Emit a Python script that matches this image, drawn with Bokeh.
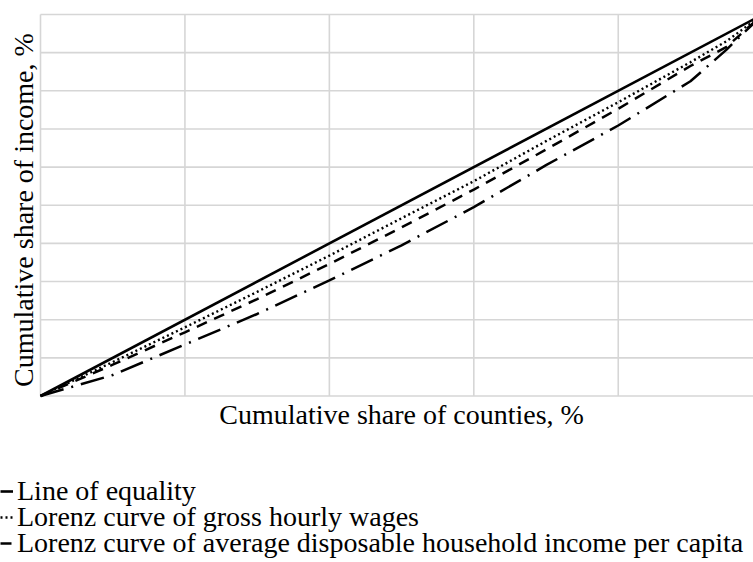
from bokeh.plotting import figure
from bokeh.models import Range1d, Legend, LegendItem, Label
from bokeh.embed import file_html
from bokeh.resources import INLINE

# ---- data ----
share_counties = [0, 10, 20, 30, 40, 50, 60, 70, 80, 90, 95, 100]
equality_x = [0, 100]
equality_y = [0, 100]
gross_hourly_wages = [0, 8.9, 18.0, 27.3, 36.8, 46.6, 56.3, 66.8, 77.0, 87.5, 93.0, 100]
disposable_income = [0, 8.2, 16.7, 25.4, 34.6, 44.2, 54.1, 64.6, 75.3, 86.5, 91.5, 100]
third_curve = [0, 5.5, 13.5, 21.5, 30.3, 39.5, 49.5, 60.5, 70.9, 82.5, 90.8, 100]

x_ticks = [0, 20, 40, 60, 80, 100]
y_ticks = [0, 10, 20, 30, 40, 50, 60, 70, 80, 90, 100]

labels = [
    "Line of equality",
    "Lorenz curve of gross hourly wages",
    "Lorenz curve of average disposable household income per capita",
]
x_title = "Cumulative share of counties, %"
y_title = "Cumulative share of income, %"

FONT = "'Liberation Serif', 'Times New Roman', serif"
FSIZE = "28px"
GRID = "#d6d6d6"

# frame covers the whole canvas; the chart box (0..100 x 0..100) sits inside it
p = figure(width=753, height=562, output_backend="svg", toolbar_location=None,
           x_range=Range1d(-5.539, 98.73), y_range=Range1d(-43.64, 103.67),
           min_border=0)
p.xaxis.visible = False
p.yaxis.visible = False
p.xgrid.visible = False
p.ygrid.visible = False
p.outline_line_color = None
p.background_fill_color = "white"
p.border_fill_color = "white"

# grid of the chart box
p.segment(x0=x_ticks, y0=[0] * len(x_ticks), x1=x_ticks, y1=[100] * len(x_ticks),
          line_color=GRID, line_width=1.6)
p.segment(x0=[0] * len(y_ticks), y0=y_ticks, x1=[100] * len(y_ticks), y1=y_ticks,
          line_color=GRID, line_width=1.6)

r_eq = p.line(equality_x, equality_y, line_color="black", line_width=2.6)
r_w = p.line(share_counties, gross_hourly_wages, line_color="black", line_width=2.4,
             line_dash="2 3")
r_i = p.line(share_counties, disposable_income, line_color="black", line_width=2.5,
             line_dash="11 8")
r_t = p.line(share_counties, third_curve, line_color="black", line_width=2.5,
             line_dash="24 8 2 8")

# one legend per row so the row pitch can match the reference
for label, rend, ybot in zip(labels, [r_eq, r_w, r_i], [55, 29, 3]):
    lg = Legend(items=[LegendItem(label=label, renderers=[rend])],
                location=(0, ybot), padding=0, margin=0, spacing=0,
                label_height=26, glyph_height=26, glyph_width=13, label_standoff=4,
                border_line_color=None, background_fill_alpha=0,
                label_text_font=FONT, label_text_font_size=FSIZE,
                label_text_color="black")
    p.add_layout(lg)

p.add_layout(Label(x=50, y=148, y_units="screen", text=x_title, text_align="center",
                   text_baseline="alphabetic", text_font=FONT, text_font_size=FSIZE,
                   text_color="black"))
p.add_layout(Label(x=23, x_units="screen", y=48.75, text=y_title, angle=1.5708,
                   text_align="center", text_baseline="alphabetic", text_font=FONT,
                   text_font_size=FSIZE, text_color="black"))

open("out.html", "w").write(file_html(p, INLINE))
